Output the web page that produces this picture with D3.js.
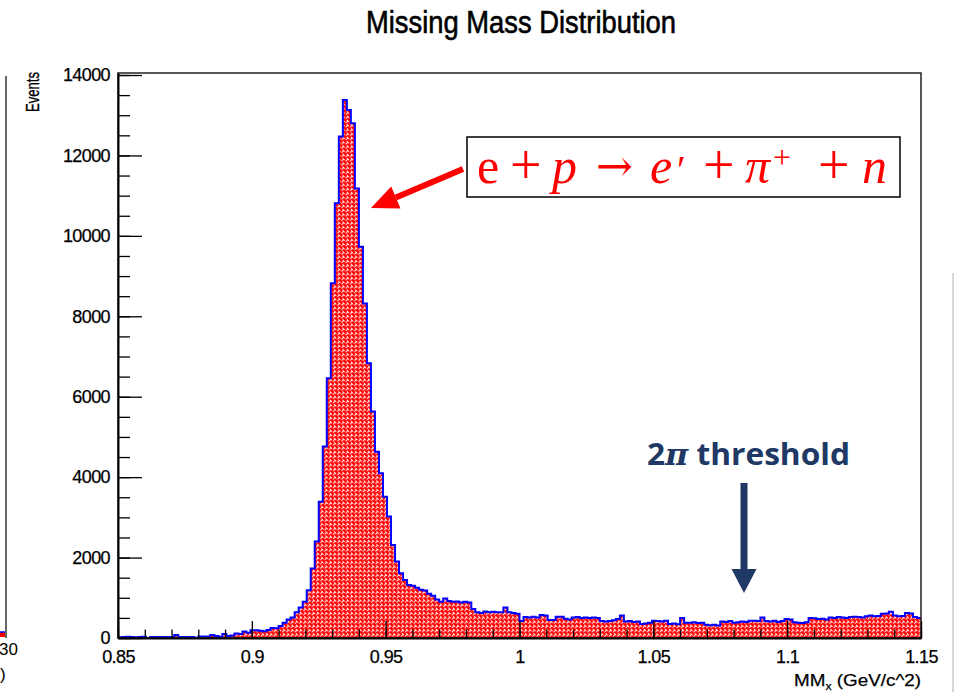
<!DOCTYPE html>
<html>
<head>
<meta charset="utf-8">
<script src="https://cdn.jsdelivr.net/npm/d3@7"></script>
<style>
  html, body { margin: 0; padding: 0; background: #fff; }
  svg { display: block; }
</style>
</head>
<body>
<svg id="chart" width="958" height="692"></svg>
<script>
// ---------------- DATA ----------------
const title = "Missing Mass Distribution";
const yAxisTitle = "Events";
const binStart = 0.85;
const binWidth = 0.0015;
const counts = [
  20,25,30,25,20,25,30,0,25,25,
  25,25,25,25,75,25,25,25,25,5,
  40,40,40,75,50,30,100,50,60,110,
  100,160,130,190,190,180,165,200,250,240,
  300,380,460,510,640,760,900,1190,1730,2400,
  3390,4760,6460,8820,10810,12470,13380,13130,12800,11180,
  9730,8320,6830,5630,4630,4100,3510,3020,2310,1900,
  1610,1440,1320,1300,1250,1200,1180,1100,1050,960,
  900,980,920,900,910,880,900,880,720,640,
  620,660,640,650,640,640,760,640,620,600,
  420,520,510,530,510,570,560,450,450,530,
  530,480,460,510,520,500,510,500,510,500,
  420,410,420,440,470,560,410,420,400,410,
  350,360,380,430,420,410,430,350,360,340,
  500,380,380,390,370,380,330,320,330,310,
  410,400,420,380,390,410,400,430,430,420,
  510,420,410,430,400,420,470,460,390,380,
  370,390,500,490,470,480,460,510,500,520,
  510,500,520,530,520,510,540,560,540,550,
  600,610,650,560,540,550,620,610,520,500
];
const xTickValues = [0.85, 0.9, 0.95, 1.0, 1.05, 1.1, 1.15];
const xTickLabels = ["0.85", "0.9", "0.95", "1", "1.05", "1.1", "1.15"];
const yTickValues = [0, 2000, 4000, 6000, 8000, 10000, 12000, 14000];
const yTickLabels = ["0", "2000", "4000", "6000", "8000", "10000", "12000", "14000"];
const reactionLabel = ["e", "+", "p", "→", "e", "′", "+", "π", "+", "+", "n"];
const thresholdLabel = ["2", "π", " threshold"];

// ---------------- LAYOUT ----------------
const svg = d3.select("#chart");
const frame = { left: 118, right: 921, top: 73, bottom: 638 };
const x = d3.scaleLinear().domain([0.85, 1.15]).range([frame.left, frame.right]);
const y = d3.scaleLinear().domain([0, 14050]).range([frame.bottom, frame.top]);

const defs = svg.append("defs");
const pat = defs.append("pattern")
  .attr("id", "hatch").attr("width", 6).attr("height", 6)
  .attr("patternUnits", "userSpaceOnUse")
  .attr("patternTransform", "rotate(45)");
pat.append("rect").attr("width", 6).attr("height", 6).attr("fill", "#ff0000");
pat.append("path").attr("d", "M0,1.5 L3,1.5 M1.5,1.5 L1.5,4.5 M3,4.5 L6,4.5 M4.5,4.5 L4.5,7 M4.5,-1.5 L4.5,1.5")
  .attr("stroke", "#ffffff").attr("stroke-width", 1.2).attr("opacity", 0.9).attr("fill", "none");

const fontAxis = "Liberation Sans, Arial, sans-serif";

// left partial panel remnants
svg.append("line").attr("x1", 6).attr("x2", 6).attr("y1", 76).attr("y2", 638)
  .attr("stroke", "#333").attr("stroke-width", 1.5);
svg.append("rect").attr("x", 0).attr("y", 632).attr("width", 5).attr("height", 5).attr("fill", "#ff0000");
svg.append("line").attr("x1", 0).attr("x2", 5).attr("y1", 632).attr("y2", 632).attr("stroke", "#0000ff").attr("stroke-width", 1.5);
svg.append("text").attr("x", 18).attr("y", 655).attr("text-anchor", "end")
  .attr("font-family", fontAxis).attr("font-size", 17).text("30");
svg.append("text").attr("x", 0).attr("y", 680)
  .attr("font-family", fontAxis).attr("font-size", 17).text(")");
// right gray line
svg.append("line").attr("x1", 953).attr("x2", 953).attr("y1", 273).attr("y2", 692)
  .attr("stroke", "#bdbdbd").attr("stroke-width", 1.2);

// ---------------- HISTOGRAM ----------------
const pts = counts.map((c, i) => [binStart + i * binWidth, c]);
pts.push([binStart + counts.length * binWidth, counts[counts.length - 1]]);

const area = d3.area()
  .x(d => x(d[0])).y0(y(0)).y1(d => y(d[1]))
  .curve(d3.curveStepAfter);
const line = d3.line()
  .x(d => x(d[0])).y(d => y(d[1]))
  .curve(d3.curveStepAfter);

svg.append("path").datum(pts).attr("d", area).attr("fill", "url(#hatch)");
svg.append("path").datum(pts).attr("d", line)
  .attr("fill", "none").attr("stroke", "#0000ff").attr("stroke-width", 2);

// ---------------- FRAME & AXES ----------------
svg.append("rect")
  .attr("x", frame.left).attr("y", frame.top)
  .attr("width", frame.right - frame.left).attr("height", frame.bottom - frame.top)
  .attr("fill", "none").attr("stroke", "#222").attr("stroke-width", 1.5);

const styleLabels = g => g.selectAll("text")
  .attr("font-family", fontAxis).attr("font-size", 18).attr("fill", "#000")
  .attr("letter-spacing", "-0.6px").attr("stroke", "#000").attr("stroke-width", 0.25);

// minor x ticks
const xMinor = d3.range(85, 116).map(d => d / 100);
svg.append("g").attr("transform", `translate(0,${frame.bottom})`)
  .call(d3.axisBottom(x).tickValues(xMinor).tickSize(-8.5).tickSizeOuter(0).tickFormat(""))
  .call(g => g.select(".domain").remove())
  .call(g => g.selectAll("line").attr("stroke", "#000").attr("stroke-width", 1.3));
// major x
svg.append("g").attr("transform", `translate(0,${frame.bottom})`)
  .call(d3.axisBottom(x).tickValues(xTickValues).tickSize(-17).tickSizeOuter(0)
    .tickPadding(12).tickFormat((d, i) => xTickLabels[i]))
  .call(g => g.select(".domain").attr("stroke", "#000").attr("stroke-width", 2))
  .call(g => g.selectAll("line").attr("stroke", "#000").attr("stroke-width", 1.3))
  .call(styleLabels);

// minor y
const yMinor = d3.range(0, 14001, 500);
svg.append("g").attr("transform", `translate(${frame.left},0)`)
  .call(d3.axisLeft(y).tickValues(yMinor).tickSize(-12).tickSizeOuter(0).tickFormat(""))
  .call(g => g.select(".domain").remove())
  .call(g => g.selectAll("line").attr("stroke", "#000").attr("stroke-width", 1.3));
// major y
svg.append("g").attr("transform", `translate(${frame.left},0)`)
  .call(d3.axisLeft(y).tickValues(yTickValues).tickSize(-24).tickSizeOuter(0)
    .tickPadding(8).tickFormat((d, i) => yTickLabels[i]))
  .call(g => g.select(".domain").attr("stroke", "#000").attr("stroke-width", 2))
  .call(g => g.selectAll("line").attr("stroke", "#000").attr("stroke-width", 1.3))
  .call(styleLabels);

// ---------------- TITLES ----------------
svg.append("text").attr("x", 366).attr("y", 33)
  .attr("font-family", fontAxis).attr("font-size", 31)
  .attr("stroke", "#000").attr("stroke-width", 0.6)
  .attr("textLength", 310).attr("lengthAdjust", "spacingAndGlyphs")
  .text(title);

svg.append("text")
  .attr("transform", "translate(39,72) rotate(-90)")
  .attr("text-anchor", "end")
  .attr("font-family", fontAxis).attr("font-size", 19)
  .attr("stroke", "#000").attr("stroke-width", 0.35)
  .attr("textLength", 40).attr("lengthAdjust", "spacingAndGlyphs")
  .text(yAxisTitle);

const xt = svg.append("text").attr("x", 921).attr("y", 686).attr("text-anchor", "end")
  .attr("font-family", fontAxis).attr("font-size", 17)
  .attr("stroke", "#000").attr("stroke-width", 0.25)
  .attr("textLength", 127).attr("lengthAdjust", "spacingAndGlyphs");
xt.append("tspan").text("MM");
xt.append("tspan").attr("font-size", 11).attr("dy", 4).text("x");
xt.append("tspan").attr("dy", -4).text(" (GeV/c^2)");

// ---------------- ANNOTATIONS ----------------
// reaction box
svg.append("rect").attr("x", 467).attr("y", 137).attr("width", 433).attr("height", 60)
  .attr("fill", "#fff").attr("stroke", "#000").attr("stroke-width", 1.5);
const reactionX = [477, 510, 552, 596, 650, 677, 703, 745, 773, 818, 862];
const rt = svg.append("text").attr("y", 183)
  .attr("font-family", "Liberation Serif, Times New Roman, serif").attr("font-size", 50)
  .attr("fill", "#ff0000");
const italicIdx = new Set([2, 4, 7, 10]);
const plusIdx = new Set([1, 6, 9]);
reactionLabel.forEach((s, i) => {
  const t = rt.append("tspan").attr("x", reactionX[i]).attr("y", 183).text(s);
  if (italicIdx.has(i)) t.attr("font-style", "italic");
  if (plusIdx.has(i)) t.attr("font-size", 56).attr("y", 184);
  if (i === 3) t.attr("font-family", "DejaVu Serif, serif").attr("font-size", 44).attr("y", 181);
  if (i === 5) t.attr("font-size", 40);
  if (i === 8) t.attr("font-size", 32).attr("y", 168);
});

// red arrow
const ax0 = 463, ay0 = 169, ax1 = 371, ay1 = 208;
const ang = Math.atan2(ay1 - ay0, ax1 - ax0);
const headLen = 27, headHalf = 12;
const bx = ax1 - headLen * Math.cos(ang), by = ay1 - headLen * Math.sin(ang);
svg.append("line").attr("x1", ax0).attr("y1", ay0).attr("x2", bx).attr("y2", by)
  .attr("stroke", "#ff0000").attr("stroke-width", 6);
svg.append("path")
  .attr("d", `M${ax1},${ay1} L${bx + headHalf * Math.sin(ang)},${by - headHalf * Math.cos(ang)} L${bx - headHalf * Math.sin(ang)},${by + headHalf * Math.cos(ang)} Z`)
  .attr("fill", "#ff0000");

// threshold label + arrow
const navy = "#203864";
const tt = svg.append("text").attr("x", 647).attr("y", 465)
  .attr("font-family", "Open Sans, Lato, sans-serif").attr("font-weight", "bold").attr("font-size", 30)
  .attr("fill", navy).attr("textLength", 203).attr("lengthAdjust", "spacingAndGlyphs");
thresholdLabel.forEach((s, i) => {
  const t = tt.append("tspan").text(s);
  if (i === 1) t.attr("font-style", "italic").attr("font-family", "DejaVu Serif, serif");
});
svg.append("rect").attr("x", 740.5).attr("y", 483).attr("width", 7).attr("height", 88).attr("fill", navy);
svg.append("path").attr("d", "M731.5,569 L756.5,569 L744,593 Z").attr("fill", navy);
</script>
</body>
</html>
